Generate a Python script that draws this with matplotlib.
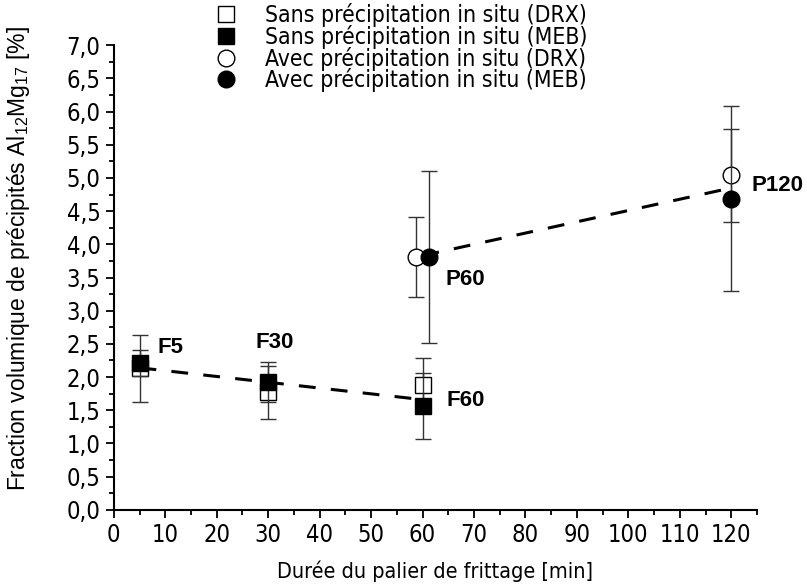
import numpy as np
import matplotlib
matplotlib.use("Agg")
import matplotlib.pyplot as plt
from matplotlib import font_manager as fm
from matplotlib.lines import Line2D
from matplotlib.ticker import MultipleLocator, FuncFormatter

# narrow-looking font if one is installed
has_cond = any(f.name == "DejaVu Sans" and f.stretch in ("condensed", 500)
               for f in fm.fontManager.ttflist)
narrow = dict(family="DejaVu Sans", stretch="condensed") if has_cond else dict(family="Liberation Sans")

plt.rcParams['font.family'] = ['Liberation Sans', 'DejaVu Sans']
plt.rcParams['mathtext.fontset'] = 'custom'
plt.rcParams['mathtext.rm'] = 'Liberation Sans'

# Sans précipitation in situ
sans_x = [5, 30, 60]
sans_drx = [2.13, 1.77, 1.88]
sans_drx_err = [0.50, 0.40, 0.40]
sans_meb = [2.21, 1.93, 1.56]
sans_meb_err = [0.20, 0.30, 0.50]

# Avec précipitation in situ
avec_x_drx = [58.7, 120]
avec_drx = [3.81, 5.04]
avec_drx_err = [0.60, 0.70]
avec_x_meb = [61.2, 120]
avec_meb = [3.81, 4.69]
avec_meb_err = [1.30, 1.40]

# trend lines (dashed)
fit_f_x = [5, 60]
fit_f_y = [2.14, 1.66]
fit_p_x = [60, 120]
fit_p_y = [3.83, 4.85]

# point labels
lab_text = ["F5", "F30", "F60", "P60", "P120"]
lab_x = [8.5, 27.6, 64.7, 64.4, 123.9]
lab_y = [2.45, 2.52, 1.65, 3.47, 4.89]

legend_labels = [
    "Sans précipitation in situ (DRX)",
    "Sans précipitation in situ (MEB)",
    "Avec précipitation in situ (DRX)",
    "Avec précipitation in situ (MEB)",
]

fig = plt.figure(figsize=(8.07, 5.88), dpi=100)
ax = fig.add_axes([0.141, 0.133, 0.797, 0.79])

dash = (5.5, 5)
ax.plot(fit_f_x, fit_f_y, color="black", lw=2.2, dashes=dash, zorder=2)
ax.plot(fit_p_x, fit_p_y, color="black", lw=2.2, dashes=dash, zorder=2)

ebkw = dict(ecolor="#333333", elinewidth=1.0, capsize=6, capthick=1.0, linestyle="none")
ax.errorbar(sans_x, sans_drx, yerr=sans_drx_err, marker="s", ms=11, mfc="white",
            mec="black", mew=1.0, zorder=3, **ebkw)
ax.errorbar(sans_x, sans_meb, yerr=sans_meb_err, marker="s", ms=11, mfc="black",
            mec="black", mew=1.0, zorder=4, **ebkw)
ax.errorbar(avec_x_drx, avec_drx, yerr=avec_drx_err, marker="o", ms=12, mfc="white",
            mec="black", mew=1.0, zorder=3, **ebkw)
ax.errorbar(avec_x_meb, avec_meb, yerr=avec_meb_err, marker="o", ms=12, mfc="black",
            mec="black", mew=1.0, zorder=4, **ebkw)

for t, x, y in zip(lab_text, lab_x, lab_y):
    ax.text(x, y, t, fontsize=16, fontweight="bold", family="Liberation Sans",
            ha="left", va="center", clip_on=False)

ax.set_xlim(0, 125)
ax.set_ylim(0, 7)
ax.xaxis.set_major_locator(MultipleLocator(10))
ax.xaxis.set_minor_locator(MultipleLocator(5))
ax.yaxis.set_major_locator(MultipleLocator(0.5))
ax.yaxis.set_minor_locator(MultipleLocator(0.25))
ax.yaxis.set_major_formatter(FuncFormatter(lambda v, p: f"{v:.1f}".replace(".", ",")))

for s in ["top", "right"]:
    ax.spines[s].set_visible(False)
for s in ["left", "bottom"]:
    ax.spines[s].set_linewidth(1.5)

ax.tick_params(which="major", direction="out", length=6, width=1.3, labelsize=17)
ax.tick_params(which="minor", direction="out", length=3.5, width=1.3)
for lab in ax.get_xticklabels() + ax.get_yticklabels():
    lab.set(**narrow)

ax.set_xlabel("Durée du palier de frittage [min]", fontsize=15.5, labelpad=10, **narrow)
ax.set_ylabel(r"Fraction volumique de précipités Al$_{12}$Mg$_{17}$ [%]", fontsize=16.5,
              family="Liberation Sans")
ax.yaxis.set_label_coords(-0.127, 0.54)

handles = [
    Line2D([], [], marker="s", ls="none", ms=11, mfc="white", mec="black", mew=1.0),
    Line2D([], [], marker="s", ls="none", ms=11, mfc="black", mec="black"),
    Line2D([], [], marker="o", ls="none", ms=12, mfc="white", mec="black", mew=1.0),
    Line2D([], [], marker="o", ls="none", ms=12, mfc="black", mec="black"),
]
leg = fig.legend(handles, legend_labels, loc="upper left", bbox_to_anchor=(0.2515, 1.01),
                 frameon=False, fontsize=16.5, handletextpad=1.1, labelspacing=-0.1,
                 handlelength=1.2, borderaxespad=0)
for t in leg.get_texts():
    t.set(**narrow)

fig.savefig("out.png", dpi=100)
